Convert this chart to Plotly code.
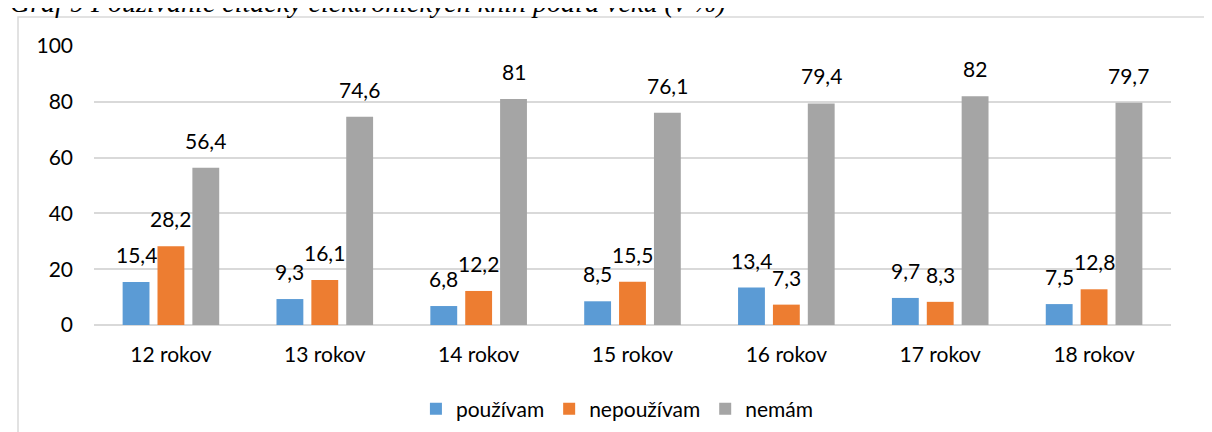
import plotly.graph_objects as go

categories = ["12 rokov", "13 rokov", "14 rokov", "15 rokov", "16 rokov", "17 rokov", "18 rokov"]
pouzivam = [15.4, 9.3, 6.8, 8.5, 13.4, 9.7, 7.5]
nepouzivam = [28.2, 16.1, 12.2, 15.5, 7.3, 8.3, 12.8]
nemam = [56.4, 74.6, 81, 76.1, 79.4, 82, 79.7]
series_names = ["používam", "nepoužívam", "nemám"]
colors = ["#5b9bd5", "#ed7d31", "#a5a5a5"]
title_text = "Graf 9 Používanie čítačky elektronických kníh podľa veku (v %)"

def fmt(v):
    return ("%g" % v).replace(".", ",")

FONT = "Lato, Carlito, Calibri, Liberation Sans, Arial"
FS = 21

L, R, T, B = 86, 49, 38, 115
W, H = 1212, 432
pw, ph = W - L - R, H - T - B
BARGAP = 0.32
slot = (pw / len(categories)) * (1 - BARGAP) / 3

fig = go.Figure()
all_series = [pouzivam, nepouzivam, nemam]
for name, vals, col in zip(series_names, all_series, colors):
    fig.add_trace(go.Bar(x=categories, y=vals, name=name, marker_color=col, marker_line_width=0))

for i, vals in enumerate(all_series):
    for c, v in zip(categories, vals):
        fig.add_annotation(x=c, y=v, xref="x", yref="y", text=fmt(v), showarrow=False,
                           xanchor="center", yanchor="bottom", xshift=(i - 1) * slot, yshift=13,
                           font=dict(family=FONT, size=FS, color="#000000"))

fig.update_layout(
    width=W, height=H,
    margin=dict(l=L, r=R, t=T, b=B, autoexpand=False),
    paper_bgcolor="white", plot_bgcolor="white",
    barmode="group", bargap=BARGAP, bargroupgap=0.23,
    font=dict(family=FONT, size=FS, color="#000000"),
    legend=dict(orientation="h", x=0.486, xanchor="center", y=-(401 - (H - B)) / ph, yanchor="middle",
                font=dict(size=FS), traceorder="normal", bgcolor="rgba(0,0,0,0)"),
    xaxis=dict(showgrid=False, showline=False, ticks="", tickfont=dict(size=FS),
               automargin=False, ticklabelstandoff=15),
    yaxis=dict(range=[0, 100], dtick=20, showgrid=True, gridcolor="#d9d9d9", gridwidth=1.5,
               zeroline=True, zerolinecolor="#d9d9d9", zerolinewidth=1.5,
               ticks="", tickfont=dict(size=FS), automargin=False, ticklabelstandoff=20),
    showlegend=True,
)

fig.add_shape(type="rect", xref="paper", yref="paper",
              x0=(10 - L) / pw, x1=1.3,
              y0=-1.0, y1=((H - B) - 9) / ph,
              line=dict(color="#d9d9d9", width=1.5), fillcolor="rgba(0,0,0,0)", layer="below")

fig.add_annotation(text="<i>" + title_text + "</i>",
                   xref="paper", yref="paper", x=-(L - 0) / pw, y=((H - B) - 12) / ph,
                   xanchor="left", yanchor="bottom", showarrow=False,
                   font=dict(family="Liberation Serif, Times New Roman", size=28, color="#000000"))

fig.write_html("out.html")
